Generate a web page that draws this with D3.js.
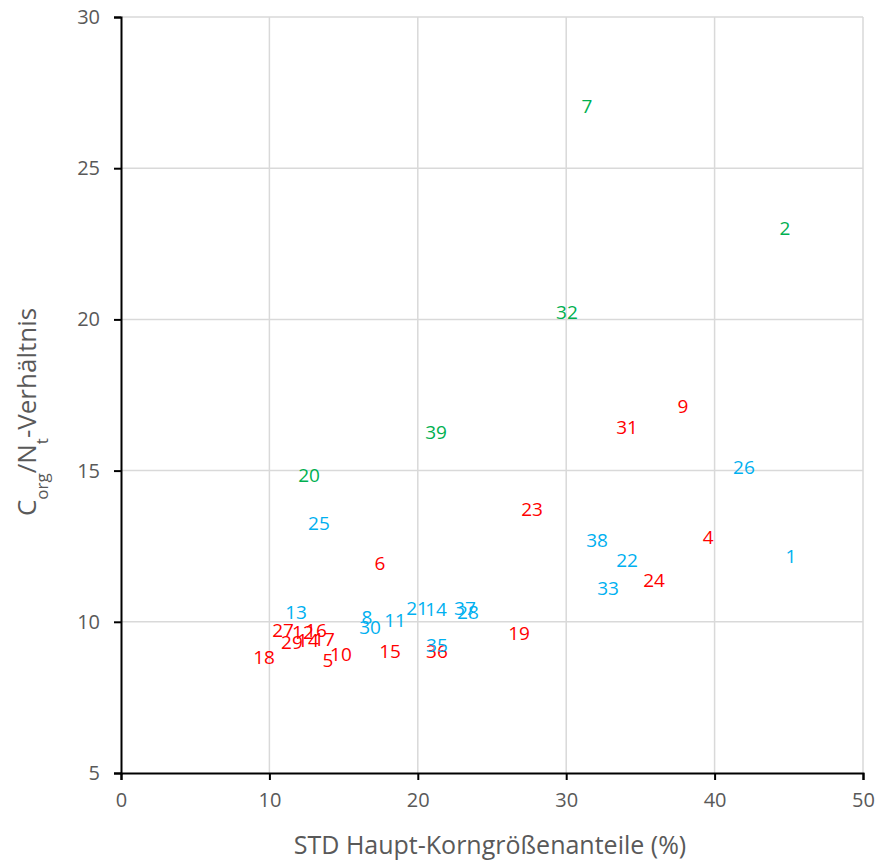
<!DOCTYPE html>
<html>
<head>
<meta charset="utf-8">
<script src="https://cdn.jsdelivr.net/npm/d3@7"></script>
<style>
  html, body { margin: 0; padding: 0; background: #fff; }
  text { font-family: "Open Sans", "Noto Sans", sans-serif; }
</style>
</head>
<body>
<svg id="chart" width="879" height="861"></svg>
<script>
// Sample numbers, positions and groups
const labels = ["7","2","32","39","20",
  "9","31","23","4","6","24","19","15","36","10","5","18","27","16","12","29","14","17",
  "26","25","38","1","22","33","13","21","14","37","28","8","30","11","35"];
const stdValues = [31.4,44.74,30.05,21.23,12.67,
  37.87,34.1,27.7,39.56,17.45,35.92,26.82,18.13,21.29,14.82,13.95,9.64,10.92,13.14,12.26,11.52,12.6,13.68,
  41.98,13.34,32.08,45.15,34.1,32.82,11.8,19.95,21.23,23.18,23.38,16.58,16.78,18.47,21.29];
const ratioValues = [27.06,23.02,20.24,16.28,14.85,
  17.14,16.44,13.73,12.8,11.94,11.38,9.63,9.03,9.03,8.94,8.74,8.84,9.73,9.73,9.66,9.33,9.4,9.43,
  15.12,13.27,12.7,12.18,12.04,11.12,10.32,10.46,10.42,10.46,10.32,10.16,9.83,10.06,9.23];
const groups = ["g","g","g","g","g",
  "r","r","r","r","r","r","r","r","r","r","r","r","r","r","r","r","r","r",
  "b","b","b","b","b","b","b","b","b","b","b","b","b","b","b"];
const groupColors = { g: "#00B050", r: "#FF0000", b: "#00B0F0" };
const xTicks = [0, 10, 20, 30, 40, 50];
const yTicks = [5, 10, 15, 20, 25, 30];

const svg = d3.select("#chart");
const margin = { left: 121, right: 16, top: 17, bottom: 88 };
const W = 879, H = 861;

const x = d3.scaleLinear().domain([0, 50]).range([margin.left, W - margin.right]);
const y = d3.scaleLinear().domain([5, 30]).range([H - margin.bottom, margin.top]);

// gridlines
svg.append("g").selectAll("line.vg").data(xTicks.filter(d => d > 0)).join("line")
  .attr("x1", d => x(d)).attr("x2", d => x(d))
  .attr("y1", y(5)).attr("y2", y(30))
  .attr("stroke", "#d9d9d9").attr("stroke-width", 1.5);
svg.append("g").selectAll("line.hg").data(yTicks.filter(d => d > 5)).join("line")
  .attr("x1", x(0)).attr("x2", x(50))
  .attr("y1", d => y(d)).attr("y2", d => y(d))
  .attr("stroke", "#d9d9d9").attr("stroke-width", 1.5);

// axes
const xAxis = svg.append("g").attr("transform", `translate(0,${y(5)})`)
  .call(d3.axisBottom(x).tickValues(xTicks).tickSize(7).tickPadding(13));
const yAxis = svg.append("g").attr("transform", `translate(${x(0)},0)`)
  .call(d3.axisLeft(y).tickValues(yTicks).tickSize(7).tickPadding(14));
[xAxis, yAxis].forEach(a => {
  a.select(".domain").attr("stroke", "#000").attr("stroke-width", 2);
  a.selectAll(".tick line").attr("stroke", "#000").attr("stroke-width", 2);
  a.selectAll(".tick text").attr("fill", "#595959").style("font-size", "20px")
    .style("font-family", "'Open Sans', sans-serif");
});

// point labels
svg.append("g").selectAll("text").data(labels).join("text")
  .attr("x", (d, i) => x(stdValues[i]))
  .attr("y", (d, i) => y(ratioValues[i]))
  .attr("text-anchor", "middle")
  .attr("dominant-baseline", "central")
  .attr("fill", (d, i) => groupColors[groups[i]])
  .style("font-size", "19px")
  .text(d => d);

// axis titles
svg.append("text")
  .attr("x", (x(0) + x(50)) / 2 - 2).attr("y", 854)
  .attr("text-anchor", "middle").attr("fill", "#595959")
  .style("font-size", "25px")
  .text("STD Haupt-Korngrößenanteile (%)");

const yt = svg.append("text")
  .attr("transform", `translate(36,412) rotate(-90)`)
  .attr("text-anchor", "middle").attr("fill", "#595959")
  .style("font-size", "26px");
yt.append("tspan").text("C");
yt.append("tspan").attr("baseline-shift", "sub").style("font-size", "17px").text("org");
yt.append("tspan").text("/N");
yt.append("tspan").attr("baseline-shift", "sub").style("font-size", "17px").text("t");
yt.append("tspan").text("-Verhältnis");
</script>
</body>
</html>
